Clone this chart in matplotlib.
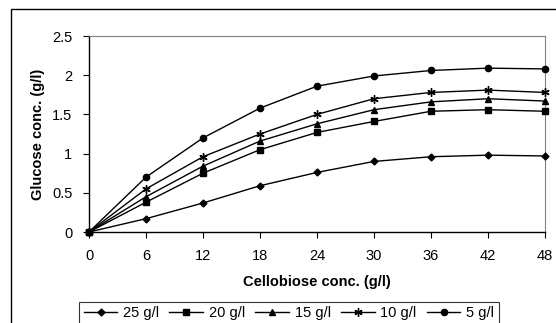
import matplotlib
matplotlib.use('Agg')
import matplotlib.pyplot as plt
from matplotlib.patches import Rectangle

plt.rcParams['font.family'] = ['Liberation Sans', 'DejaVu Sans']

# cellobiose concentration (g/l)
x = [0, 6, 12, 18, 24, 30, 36, 42, 48]

# glucose concentration (g/l) per series
g25 = [0, 0.17, 0.37, 0.59, 0.76, 0.90, 0.96, 0.98, 0.97]
g20 = [0, 0.38, 0.75, 1.05, 1.27, 1.41, 1.54, 1.56, 1.54]
g15 = [0, 0.45, 0.84, 1.16, 1.38, 1.56, 1.66, 1.70, 1.67]
g10 = [0, 0.55, 0.96, 1.25, 1.50, 1.70, 1.78, 1.81, 1.78]
g5 = [0, 0.70, 1.20, 1.58, 1.86, 1.99, 2.06, 2.09, 2.08]

labels = ['25 g/l', '20 g/l', '15 g/l', '10 g/l', '5 g/l']
series = [g25, g20, g15, g10, g5]
markers = ['D', 's', '^', (6, 2, 0), 'o']
sizes = [3.5, 4, 4.5, 6, 4.5]

fig = plt.figure(figsize=(5.56, 3.23), dpi=100)
ax = fig.add_axes([89/556, 1-232/323, 456/556, 196/323])

for y, lab, m, s in zip(series, labels, markers, sizes):
    ax.plot(x, y, color='black', linewidth=1, marker=m, markersize=s,
            markeredgewidth=1, label=lab, clip_on=False, zorder=3)

ax.set_xlim(0, 48)
ax.set_ylim(0, 2.5)
ax.set_xticks(x)
ax.set_yticks([0, 0.5, 1, 1.5, 2, 2.5])
ax.set_yticklabels(['0', '0.5', '1', '1.5', '2', '2.5'])
ax.tick_params(labelsize=10.5, direction='out', length=4, width=0.8)
ax.tick_params(axis='x', pad=8)
ax.tick_params(axis='y', pad=8)
ax.set_xlabel('Cellobiose conc. (g/l)', fontsize=10.5, fontweight='bold', labelpad=9)
ax.set_ylabel('Glucose conc. (g/l)', fontsize=10.5, fontweight='bold', labelpad=5)

for side in ['top', 'right']:
    ax.spines[side].set_color('#808080')
    ax.spines[side].set_linewidth(0.8)
for side in ['left', 'bottom']:
    ax.spines[side].set_color('black')
    ax.spines[side].set_linewidth(1)

leg = fig.legend(loc='upper center', bbox_to_anchor=(289/556, 1-302/323), ncol=5,
                 fontsize=10.5, frameon=True, fancybox=False, edgecolor='black',
                 handlelength=2.3, handletextpad=0.4, columnspacing=0.7,
                 borderpad=0.3, borderaxespad=0)
leg.get_frame().set_linewidth(0.8)

# outer chart frame
fig.patches.append(Rectangle((11/556, -0.1), 1.0, 1-9/323+0.1, transform=fig.transFigure,
                             fill=False, edgecolor='black', linewidth=1))

fig.savefig('out.png', dpi=100)
